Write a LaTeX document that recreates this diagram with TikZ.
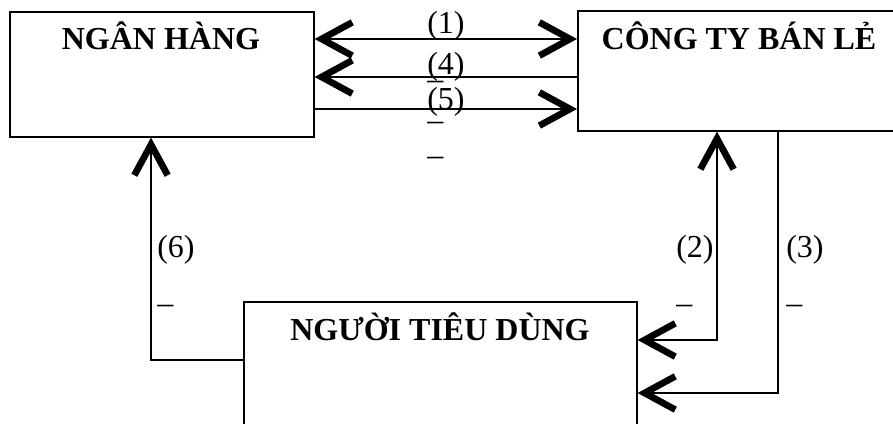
\documentclass[tikz,border=0pt]{standalone}
\usepackage{fontspec}
\setmainfont{Liberation Serif}
\usetikzlibrary{arrows.meta}
\begin{document}
\begin{tikzpicture}[x=0.75pt,y=-0.75pt,
  box/.style={draw, line width=1.2pt, rectangle, inner sep=0pt, anchor=north west},
  title/.style={font=\fontsize{24}{29}\selectfont\bfseries, anchor=base, inner sep=0pt},
  tag/.style={font=\fontsize{24}{42}\selectfont, align=left, anchor=base west, inner sep=0pt},
  link/.style={line width=1.2pt},
  barb/.tip={Straight Barb[length=23pt, width=25pt, line width=5pt]},
]
\useasboundingbox (0,0) rectangle (893,424);

% the three parties
\node[box, minimum width=304*0.75pt, minimum height=125*0.75pt] (bank) at (9,11) {};
\node[box, minimum width=324*0.75pt, minimum height=120*0.75pt] (retail) at (577,10) {};
\node[box, minimum width=393*0.75pt, minimum height=170*0.75pt] (consumer) at (243,301) {};

\node[title] (bankT) at (161,50) {NGÂN HÀNG};
\node[title] (retailT) at (739,50) {CÔNG TY BÁN LẺ};
\node[title] (consumerT) at (440,340) {NGƯỜI TIÊU DÙNG};

% bank <-> retailer
\draw[link, barb-barb] (bank.east |- 0,39) -- (retail.west |- 0,39);
\draw[link, -barb] (retail.west |- 0,77) -- (bank.east |- 0,77);
\draw[link, -barb] (bank.east |- 0,109) -- (retail.west |- 0,109);

% retailer <-> consumer
\coordinate (c2) at (717,340);
\coordinate (c3) at (778,393);
\draw[link, barb-barb] (consumer.east |- c2) -- (c2) -- (c2 |- retail.south);
\draw[link, -barb] (c3 |- retail.south) -- (c3) -- (consumer.east |- c3);

% consumer -> bank
\coordinate (c6) at (151,360);
\draw[link, -barb] (consumer.west |- c6) -- (c6) -- (c6 |- bank.south);

% step numbers (anchored on the baseline of the dash line)
\node[tag] (t1) at (427,90) {(1)\\–};
\node[tag] (t4) at (427,131) {(4)\\–};
\node[tag] (t5) at (427,166) {(5)\\–};
\node[tag] (t2) at (676,313) {(2)\\–};
\node[tag] (t3) at (786,313) {(3)\\–};
\node[tag] (t6) at (157,313) {(6)\\–};
\end{tikzpicture}
\end{document}
